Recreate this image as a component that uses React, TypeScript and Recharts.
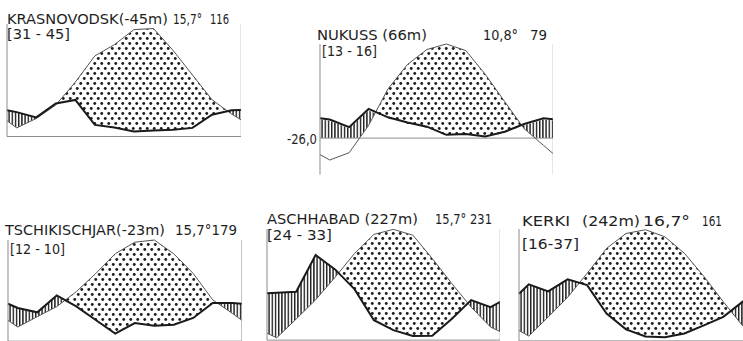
import React from "react";
import { ComposedChart, Area, Line, XAxis, YAxis, ReferenceLine } from "recharts";

// x positions in months: left edge, mid-Jan … mid-Dec, right edge
const monthPositions = [0, 0.5, 1.5, 2.5, 3.5, 4.5, 5.5, 6.5, 7.5, 8.5, 9.5, 10.5, 11.5, 12];
const monthBoundaries = [0, 1, 2, 3, 4, 5, 6, 7, 8, 9, 10, 11, 12];

// temperature (°C) and precipitation (mm): edge, Jan … Dec, edge
const krasnovodskTemp = [4.2, 2.3, 4.8, 8.4, 14.5, 21.5, 24.5, 28.5, 28.8, 23.0, 16.4, 9.8, 6.0, 4.4];
const krasnovodskPrecip = [14.0, 13.0, 10.2, 17.6, 19.5, 6.2, 4.8, 2.7, 3.2, 3.6, 4.6, 11.6, 14.0, 14.2];

const nukussTemp = [-4.5, -6.0, -4.0, 3.5, 13.5, 20.2, 24.3, 25.8, 24.0, 17.5, 10.0, 2.6, -2.0, -4.3];
const nukussPrecip = [10.2, 9.5, 5.4, 15.2, 10.7, 7.9, 5.7, 1.3, 1.8, 0.4, 3.0, 7.1, 10.2, 9.6];

const tschikischjarTemp = [5.6, 3.8, 6.6, 9.3, 13.3, 18.2, 23.5, 26.6, 27.2, 23.5, 18.2, 11.1, 7.5, 5.6];
const tschikischjarPrecip = [20.0, 17.7, 15.4, 24.4, 18.6, 11.3, 4.0, 9.7, 8.3, 8.8, 12.4, 20.4, 20.4, 20.0];

const aschhabadTemp = [1.8, 0.6, 5.5, 10.5, 16.4, 22.6, 27.6, 28.9, 27.4, 21.3, 14.8, 8.6, 3.4, 2.2];
const aschhabadPrecip = [24.4, 24.7, 25.2, 44.4, 36.9, 26.6, 10.4, 5.2, 2.1, 2.3, 11.0, 20.9, 17.2, 20.0];

const kerkiTemp = [2.8, 1.3, 6.4, 11.7, 18.1, 24.8, 28.8, 29.8, 27.9, 23.5, 17.3, 10.5, 4.0, 2.8];
const kerkiPrecip = [25.3, 30.3, 26.5, 33.0, 29.9, 14.7, 6.2, 2.4, 1.9, 4.0, 8.3, 12.9, 21.1, 25.3];

// text labels
const krasnovodskLabels = ["KRASNOVODSK(-45m)", "15,7°", "116", "[31 - 45]"];
const nukussLabels = ["NUKUSS (66m)", "10,8°", "79", "[13 - 16]", "-26,0"];
const tschikischjarLabels = ["TSCHIKISCHJAR(-23m)", "15,7°179", "[12 - 10]"];
const aschhabadLabels = ["ASCHHABAD (227m)", "15,7° 231", "[24 - 33]"];
const kerkiLabels = ["KERKI", "(242m)", "16,7°", "161", "[16-37]"];

type Row = {
  x: number;
  temp: number | null;
  precip: number | null;
  arid: [number, number];
  humid: [number, number];
};

function buildRows(temp: number[], precip: number[]): Row[] {
  const rows: Row[] = [];
  const push = (x: number, t: number, p: number, measured: boolean) => {
    const pe = p / 2;
    rows.push({
      x,
      temp: measured ? t : null,
      precip: measured ? p : null,
      arid: [pe, Math.max(t, pe)],
      humid: [Math.min(pe, Math.max(t, 0)), pe],
    });
  };
  for (let i = 0; i < monthPositions.length; i++) {
    if (i > 0) {
      const x0 = monthPositions[i - 1];
      const x1 = monthPositions[i];
      const t0 = temp[i - 1];
      const t1 = temp[i];
      const p0 = precip[i - 1];
      const p1 = precip[i];
      const d0 = t0 - p0 / 2;
      const d1 = t1 - p1 / 2;
      const fr: number[] = [];
      if (d0 * d1 < 0) fr.push(d0 / (d0 - d1));
      if (t0 * t1 < 0) fr.push(t0 / (t0 - t1));
      fr.sort((a, b) => a - b).forEach((f) =>
        push(x0 + f * (x1 - x0), t0 + f * (t1 - t0), p0 + f * (p1 - p0), false)
      );
    }
    push(monthPositions[i], temp[i], precip[i], true);
  }
  return rows;
}

type Station = {
  id: string;
  temp: number[];
  precip: number[];
  domain: [number, number];
  ticks: number[];
  left: number;
  top: number;
  width: number;
  height: number;
  zeroInside?: boolean;
};

const AXIS = "#8c8c8c";
const INK = "#1c1c1c";

function StationChart({ s }: { s: Station }) {
  const rows = buildRows(s.temp, s.precip);
  const padX = 5;
  const padTop = 3;
  const padBottom = 3;
  const w = s.width + 2 * padX;
  const h = s.height + padTop + padBottom;
  return (
    <div style={{ position: "absolute", left: s.left - padX, top: s.top - padTop }}>
      <ComposedChart
        width={w}
        height={h}
        data={rows}
        margin={{ top: padTop, right: 0, bottom: s.zeroInside ? padBottom : 0, left: 0 }}
      >
        <defs>
          <pattern id={`dots-${s.id}`} width={7} height={10} patternUnits="userSpaceOnUse">
            <circle cx={1.75} cy={2.5} r={1.45} fill={INK} />
            <circle cx={5.25} cy={7.5} r={1.45} fill={INK} />
          </pattern>
          <pattern id={`hatch-${s.id}`} width={3.2} height={10} patternUnits="userSpaceOnUse">
            <rect x={0} y={0} width={1.4} height={10} fill={INK} />
          </pattern>
        </defs>
        <XAxis
          dataKey="x"
          type="number"
          domain={[0, 12]}
          ticks={monthBoundaries}
          hide={!!s.zeroInside}
          height={padBottom}
          tickSize={3}
          tick={false}
          axisLine={{ stroke: AXIS }}
          tickLine={{ stroke: AXIS }}
        />
        <YAxis
          yAxisId="t"
          type="number"
          domain={s.domain}
          ticks={s.ticks}
          width={padX}
          tickSize={3}
          tick={false}
          axisLine={{ stroke: AXIS }}
          tickLine={{ stroke: AXIS }}
        />
        <YAxis
          yAxisId="p"
          orientation="right"
          type="number"
          domain={[s.domain[0] * 2, s.domain[1] * 2]}
          ticks={s.ticks.map((v) => v * 2)}
          width={padX}
          mirror
          tickSize={3}
          tick={false}
          axisLine={{ stroke: AXIS }}
          tickLine={{ stroke: AXIS }}
        />
        {s.zeroInside && <ReferenceLine yAxisId="t" y={0} stroke={AXIS} strokeWidth={1} />}
        <Area
          yAxisId="t"
          type="linear"
          dataKey="arid"
          stroke="none"
          fill={`url(#dots-${s.id})`}
          fillOpacity={1}
          isAnimationActive={false}
          activeDot={false}
        />
        <Area
          yAxisId="t"
          type="linear"
          dataKey="humid"
          stroke="none"
          fill={`url(#hatch-${s.id})`}
          fillOpacity={1}
          isAnimationActive={false}
          activeDot={false}
        />
        <Line
          yAxisId="t"
          type="linear"
          dataKey="temp"
          stroke="#555"
          strokeWidth={1}
          dot={false}
          activeDot={false}
          connectNulls
          isAnimationActive={false}
        />
        <Line
          yAxisId="p"
          type="linear"
          dataKey="precip"
          stroke="#1a1a1a"
          strokeWidth={2}
          dot={false}
          activeDot={false}
          connectNulls
          isAnimationActive={false}
        />
      </ComposedChart>
    </div>
  );
}

const stations: Station[] = [
  { id: "kras", temp: krasnovodskTemp, precip: krasnovodskPrecip, domain: [0, 30], ticks: [0, 10, 20, 30], left: 6.7, top: 24.2, width: 229.3, height: 112.5 },
  { id: "nuk", temp: nukussTemp, precip: nukussPrecip, domain: [-10, 25], ticks: [-10, 0, 10, 20, 25], left: 320, top: 44.1, width: 228.3, height: 130.6, zeroInside: true },
  { id: "tsch", temp: tschikischjarTemp, precip: tschikischjarPrecip, domain: [0, 27], ticks: [0, 10, 20, 27], left: 8.3, top: 239.8, width: 229, height: 101.2 },
  { id: "asch", temp: aschhabadTemp, precip: aschhabadPrecip, domain: [0, 29], ticks: [0, 10, 20, 29], left: 266.7, top: 228.9, width: 228.3, height: 111.1 },
  { id: "kerk", temp: kerkiTemp, precip: kerkiPrecip, domain: [0, 30], ticks: [0, 10, 20, 30], left: 519, top: 228.6, width: 228.5, height: 111.9 },
];

function T({ x, y, w, children, size = 14.5 }: { x: number; y: number; w: number; children: string; size?: number }) {
  return (
    <text
      x={x}
      y={y}
      textLength={w}
      lengthAdjust="spacingAndGlyphs"
      fontFamily="'DejaVu Sans', sans-serif"
      fontSize={size}
      fill="#1e1e1e"
    >
      {children}
    </text>
  );
}

export default function App() {
  return (
    <div
      style={{
        position: "fixed",
        left: 0,
        top: 0,
        width: 743,
        height: 341,
        overflow: "hidden",
        background: "#fff",
      }}
    >
      {stations.map((s) => (
        <StationChart key={s.id} s={s} />
      ))}
      <svg
        width={743}
        height={341}
        style={{ position: "absolute", left: 0, top: 0, pointerEvents: "none" }}
      >
        <T x={7} y={24} w={161}>{krasnovodskLabels[0]}</T>
        <T x={173} y={24} w={29}>{krasnovodskLabels[1]}</T>
        <T x={210} y={24} w={19}>{krasnovodskLabels[2]}</T>
        <T x={7} y={39} w={63} size={13.5}>{krasnovodskLabels[3]}</T>

        <T x={317} y={40} w={110}>{nukussLabels[0]}</T>
        <T x={483} y={40} w={35}>{nukussLabels[1]}</T>
        <T x={530} y={40} w={17}>{nukussLabels[2]}</T>
        <T x={322} y={56} w={55} size={13.5}>{nukussLabels[3]}</T>
        <T x={287} y={144} w={30} size={13.5}>{nukussLabels[4]}</T>

        <T x={5} y={235} w={160}>{tschikischjarLabels[0]}</T>
        <T x={175} y={235} w={62}>{tschikischjarLabels[1]}</T>
        <T x={10} y={254} w={55} size={13.5}>{tschikischjarLabels[2]}</T>

        <T x={267} y={224} w={151}>{aschhabadLabels[0]}</T>
        <T x={435} y={224} w={57}>{aschhabadLabels[1]}</T>
        <T x={267} y={239.5} w={65} size={13.5}>{aschhabadLabels[2]}</T>

        <T x={522} y={226} w={48}>{kerkiLabels[0]}</T>
        <T x={582} y={226} w={58}>{kerkiLabels[1]}</T>
        <T x={643} y={226} w={47}>{kerkiLabels[2]}</T>
        <T x={702} y={226} w={20}>{kerkiLabels[3]}</T>
        <T x={522} y={249} w={57} size={13.5}>{kerkiLabels[4]}</T>
      </svg>
    </div>
  );
}
